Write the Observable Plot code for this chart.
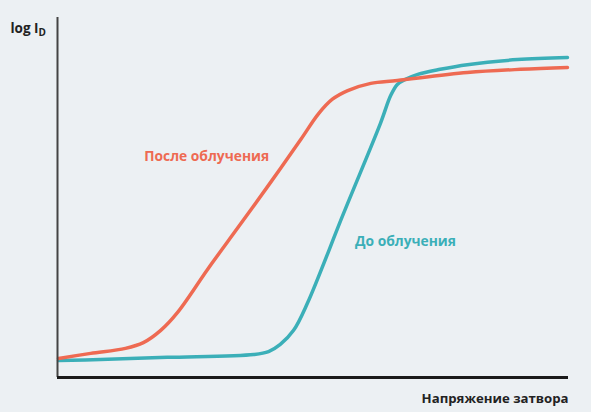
<!DOCTYPE html>
<html>
<head>
<meta charset="utf-8">
<script src="https://cdn.jsdelivr.net/npm/d3@7"></script>
<script src="https://cdn.jsdelivr.net/npm/@observablehq/plot@0.6"></script>
<style>
  html, body { margin: 0; padding: 0; background: #ECF0F3; }
  svg { display: block; background: #ECF0F3; }
</style>
</head>
<body>
<div id="chart"></div>
<script>
// Gate voltage (relative units) and log drain current (relative units)
const afterX = [0.2, 6.5, 13.3, 16.8, 20.2, 23.5, 29.5, 35.6, 41.7, 47.6, 51.1, 53.8, 56.8, 61.3, 66.5, 80.2, 90.6, 99.8];
const afterY = [5.3, 6.7, 8.1, 9.7, 13.1, 18.1, 30.3, 42.2, 54.2, 66.1, 73.3, 77.3, 79.7, 81.7, 82.5, 84.7, 85.6, 86.1];
const beforeX = [0.2, 8.4, 21.5, 38.4, 41.3, 43.6, 46.2, 48.9, 55.9, 63.2, 65.2, 66.5, 68.1, 70.5, 74.9, 80.2, 90.0, 99.8];
const beforeY = [4.7, 5.0, 5.6, 6.4, 7.2, 9.2, 13.1, 20.6, 45.3, 70.6, 78.3, 81.4, 82.8, 84.2, 85.6, 86.9, 88.3, 88.9];

const seriesNames = ["После облучения", "До облучения"];
const seriesColors = ["#EE6A52", "#3BAFB8"];
const labelX = [29.2, 68.1];
const labelY = [61.4, 37.8];

const yTitle = "log I";
const ySub = "D";
const xTitle = "Напряжение затвора";

const after = afterX.map((x, i) => ({x, y: afterY[i]}));
const before = beforeX.map((x, i) => ({x, y: beforeY[i]}));
const labels = seriesNames.map((name, i) => ({name, x: labelX[i], y: labelY[i], color: seriesColors[i]}));

const font = "'Open Sans', 'DejaVu Sans', sans-serif";

const chart = Plot.plot({
  width: 591,
  height: 412,
  marginLeft: 57,
  marginRight: 23,
  marginTop: 17,
  marginBottom: 35,
  style: {background: "#ECF0F3", fontFamily: font},
  x: {domain: [0, 100], axis: null},
  y: {domain: [0, 100], axis: null},
  marks: [
    Plot.line(before, {x: "x", y: "y", stroke: seriesColors[1], strokeWidth: 3.5, curve: "catmull-rom"}),
    Plot.line(after, {x: "x", y: "y", stroke: seriesColors[0], strokeWidth: 3.5, curve: "catmull-rom"}),
    Plot.ruleX([0], {stroke: "#444", strokeWidth: 2}),
    Plot.ruleY([0], {stroke: "#1a1a1a", strokeWidth: 3}),
    Plot.text(labels, {x: "x", y: "y", text: "name", fill: "color", fontSize: 13.8, fontWeight: "bold"}),
    Plot.text([yTitle], {frameAnchor: "top-left", dx: -47, dy: 6, textAnchor: "start", fill: "#222", fontSize: 13.5, fontWeight: "bold"}),
    Plot.text([xTitle], {frameAnchor: "bottom-right", dy: 25, textAnchor: "end", fill: "#222", fontSize: 13.2, fontWeight: "bold"})
  ]
});

d3.select(chart).selectAll("text").each(function() {
  const t = d3.select(this);
  if (t.text() === yTitle) {
    t.append("tspan").attr("dy", "0.3em").attr("font-size", 10).text(ySub);
  }
});

document.getElementById("chart").appendChild(chart);
</script>
</body>
</html>
